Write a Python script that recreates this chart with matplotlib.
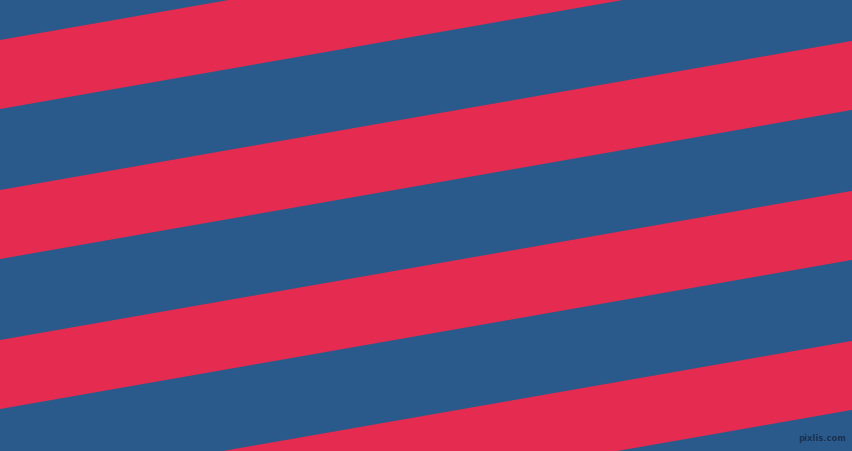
import numpy as np
import matplotlib
matplotlib.use("Agg")
import matplotlib.pyplot as plt

# pattern description
band_offsets = [-110, 40, 190, 340, 490]   # red band top edge at left side (px)
band_height = 69                           # vertical thickness of red band (px)
slope = 0.175                               # rise per px going right
colors = {"bg": "#2A5A8B", "band": "#E52B50"}
W, H = 852, 451

fig = plt.figure(figsize=(W / 100, H / 100), dpi=100)
ax = fig.add_axes([0, 0, 1, 1])
ax.set_xlim(0, W)
ax.set_ylim(H, 0)
ax.axis("off")
fig.patch.set_facecolor(colors["bg"])
ax.add_patch(plt.Rectangle((0, 0), W, H, color=colors["bg"], zorder=0))

xs = np.array([-10, W + 10])
for off in band_offsets:
    top = off - slope * xs
    bot = top + band_height
    ax.fill_between(xs, top, bot, color=colors["band"], linewidth=0, zorder=1)

ax.text(846, 443, "pixlis.com", fontsize=6, color="#1A3150", ha="right",
        va="bottom", fontweight="bold", zorder=2)

fig.savefig("out.png", dpi=100, facecolor=colors["bg"])
